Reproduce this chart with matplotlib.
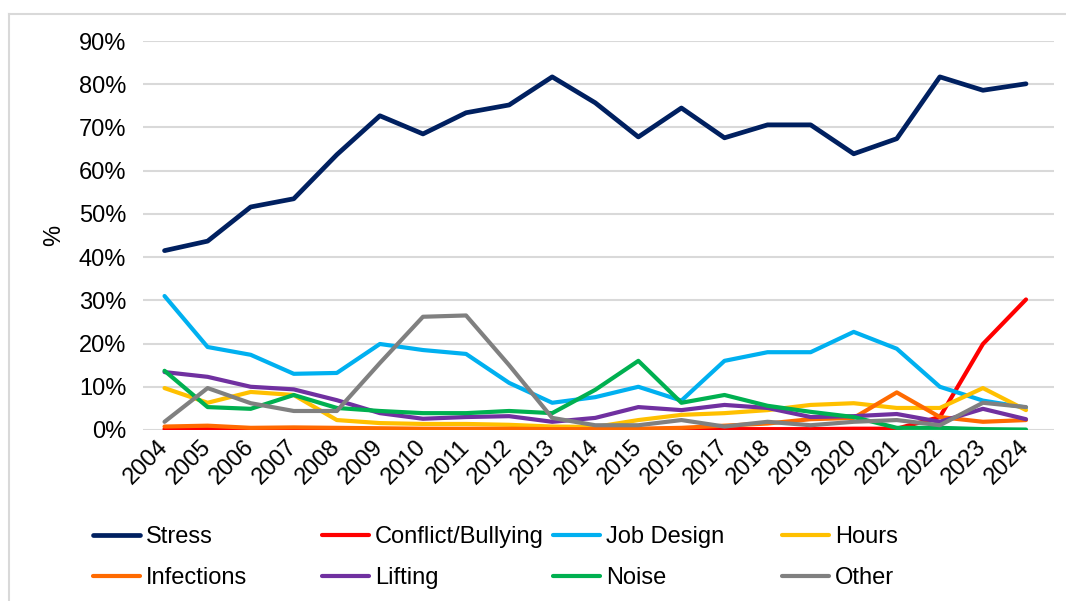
import matplotlib.pyplot as plt
from matplotlib.lines import Line2D
from matplotlib.ticker import PercentFormatter

plt.rcParams['font.family'] = ['Liberation Sans', 'DejaVu Sans']

years = [str(y) for y in range(2004, 2025)]

# shares (%)
stress = [41.5, 43.7, 51.6, 53.5, 63.7, 72.7, 68.5, 73.4, 75.2, 81.7, 75.7,
          67.8, 74.5, 67.6, 70.6, 70.6, 63.9, 67.4, 81.7, 78.6, 80.1]
conflict = [0.2, 0.2, 0.2, 0.2, 0.2, 0.2, 0.2, 0.2, 0.2, 0.2, 0.2,
            0.2, 0.3, 0.2, 0.2, 0.2, 0.3, 0.3, 3.0, 19.9, 30.2]
job_design = [31.0, 19.2, 17.4, 13.0, 13.2, 19.9, 18.5, 17.6, 10.9, 6.3, 7.6,
              10.0, 6.8, 16.0, 18.0, 18.0, 22.7, 18.8, 10.0, 6.8, 5.2]
hours = [9.7, 6.3, 8.8, 8.1, 2.3, 1.6, 1.4, 1.4, 1.2, 0.8, 0.7,
         2.3, 3.5, 3.9, 4.6, 5.8, 6.2, 5.1, 5.1, 9.7, 4.6]
infections = [0.8, 1.0, 0.5, 0.6, 0.5, 0.4, 0.3, 0.3, 0.3, 0.2, 0.2,
              0.3, 0.5, 1.0, 1.5, 2.5, 2.8, 8.7, 3.0, 1.9, 2.3]
lifting = [13.4, 12.3, 10.0, 9.4, 6.9, 3.9, 2.6, 3.0, 3.2, 1.9, 2.8,
           5.3, 4.6, 5.8, 5.1, 3.0, 3.2, 3.7, 1.9, 4.9, 2.5]
noise = [13.7, 5.3, 4.9, 8.1, 5.1, 4.4, 3.9, 3.9, 4.4, 3.9, 9.3,
         16.0, 6.3, 8.1, 5.6, 4.2, 3.0, 0.5, 0.5, 0.2, 0.1]
other = [1.9, 9.7, 6.2, 4.4, 4.4, 15.5, 26.2, 26.5, 15.0, 2.8, 1.1,
         1.1, 2.3, 0.8, 1.9, 1.1, 1.9, 2.3, 1.1, 6.3, 5.3]

names = ['Stress', 'Conflict/Bullying', 'Job Design', 'Hours',
         'Infections', 'Lifting', 'Noise', 'Other']
series = [stress, conflict, job_design, hours, infections, lifting, noise, other]
colors = ['#002060', '#FF0000', '#00B0F0', '#FFC000',
          '#FF6A00', '#7030A0', '#00B050', '#808080']

fig = plt.figure(figsize=(10.66, 6.01), dpi=100)
ax = fig.add_axes([143 / 1066, 1 - 430 / 601, (1054 - 143) / 1066, (430 - 41) / 601])

x = list(range(len(years)))
lines = []
for name, vals, c in zip(names, series, colors):
    lw = 3.4 if name == 'Stress' else 3.0
    ln, = ax.plot(x, vals, color=c, lw=lw, label=name, solid_capstyle='round',
                  solid_joinstyle='round')
    lines.append(ln)

ax.set_xlim(-0.5, 20.65)
ax.set_ylim(0, 90)
ax.set_yticks(range(0, 91, 10))
ax.yaxis.set_major_formatter(PercentFormatter(decimals=0))
ax.grid(axis='y', color='#D9D9D9', lw=1.5)
ax.set_axisbelow(True)
for s in ax.spines.values():
    s.set_visible(False)
ax.tick_params(length=0, labelsize=17, colors='#000000')
ax.tick_params(axis='y', pad=12)
ax.set_xticks(x)
ax.set_xticklabels(years, rotation=45, ha='right', va='center',
                   rotation_mode='anchor')
ax.tick_params(axis='x', pad=10)
ax.set_ylabel('%', fontsize=17, labelpad=10)

# legend, four evenly spaced columns
col_x = [93, 322, 553, 782]
for i, cx in enumerate(col_x):
    fig.legend([lines[i], lines[i + 4]], [names[i], names[i + 4]],
               loc='upper left', bbox_to_anchor=(cx / 1066, 1 - 526 / 601),
               frameon=False, fontsize=17, handlelength=2.0,
               handletextpad=0.25, labelspacing=0.8, borderpad=0,
               borderaxespad=0)

# chart area border
fig.add_artist(Line2D([9 / 1066, 1], [1 - 14 / 601] * 2, color='#D9D9D9', lw=1.5))
fig.add_artist(Line2D([9 / 1066] * 2, [0, 1 - 14 / 601], color='#D9D9D9', lw=1.5))

fig.savefig('out.png', dpi=100)
